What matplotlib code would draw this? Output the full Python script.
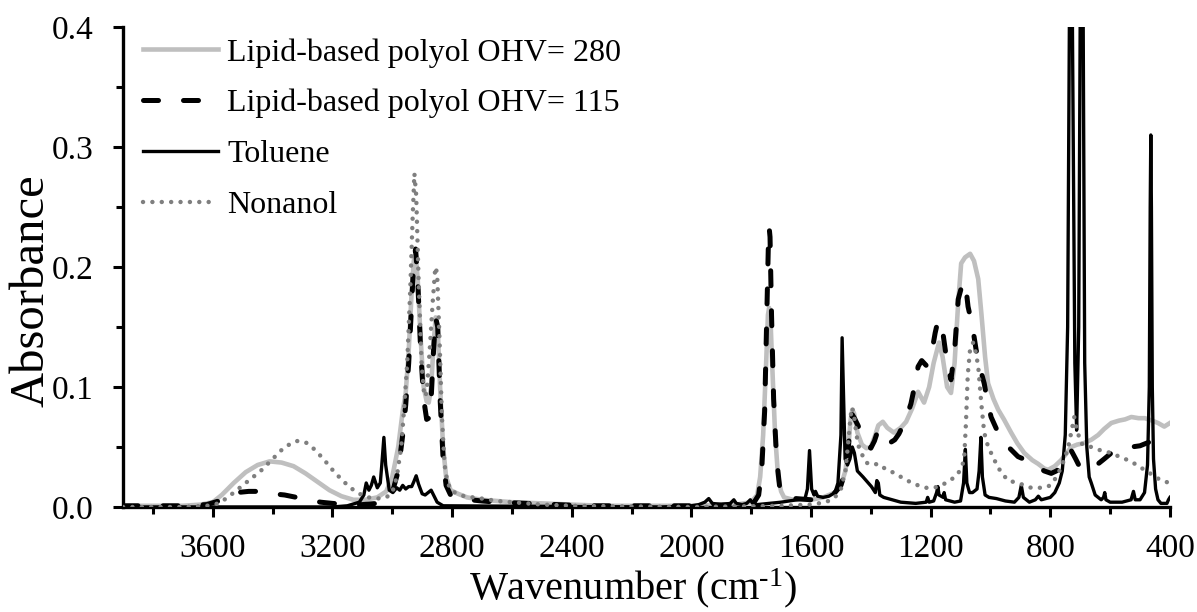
import numpy as np
import matplotlib
matplotlib.use('Agg')
import matplotlib.pyplot as plt
from matplotlib.ticker import MultipleLocator, FormatStrFormatter

plt.rcParams['font.family'] = ['Liberation Serif', 'DejaVu Serif']
plt.rcParams['mathtext.fontset'] = 'custom'
plt.rcParams['mathtext.rm'] = 'Liberation Serif'
plt.rcParams['mathtext.it'] = 'Liberation Serif:italic'

# FTIR spectra, (wavenumber cm-1, absorbance)
polyol280_wn = [3900, 3800, 3700, 3640, 3600, 3570, 3530, 3490, 3450, 3410, 3370, 3330, 3290, 3250,
                3210, 3170, 3130, 3090, 3050, 3020, 3000, 2980, 2965, 2955, 2945, 2935, 2928, 2922,
                2915, 2905, 2895, 2885, 2878, 2870, 2862, 2855, 2848, 2840, 2830, 2820, 2805, 2780,
                2750, 2700, 2650, 2600, 2500, 2400, 2300, 2000, 1850, 1800, 1780, 1770, 1760, 1750,
                1744, 1740, 1736, 1730, 1720, 1710, 1700, 1690, 1660, 1600, 1560, 1520, 1500, 1485,
                1475, 1468, 1462, 1456, 1445, 1430, 1415, 1400, 1385, 1375, 1360, 1345, 1323, 1300,
                1282, 1262, 1242, 1222, 1205, 1190, 1172, 1160, 1145, 1132, 1120, 1108, 1098, 1085,
                1068, 1055, 1041, 1030, 1018, 1008, 990, 974, 955, 931, 910, 887, 860, 841, 820, 807,
                785, 764, 745, 730, 710, 690, 663, 640, 620, 596, 570, 550, 529, 505, 484, 460, 440,
                419, 400]
polyol280_abs = [0.001, 0.001, 0.001, 0.002, 0.004, 0.010, 0.020, 0.029, 0.035, 0.038, 0.037, 0.034,
                 0.028, 0.021, 0.014, 0.009, 0.006, 0.006, 0.008, 0.013, 0.025, 0.050, 0.080, 0.095,
                 0.130, 0.180, 0.205, 0.212, 0.190, 0.140, 0.100, 0.088, 0.087, 0.100, 0.135, 0.158,
                 0.150, 0.100, 0.050, 0.025, 0.014, 0.011, 0.008, 0.006, 0.005, 0.004, 0.003, 0.002,
                 0.001, 0.001, 0.002, 0.004, 0.010, 0.025, 0.060, 0.120, 0.160, 0.166, 0.160, 0.120,
                 0.060, 0.025, 0.013, 0.008, 0.006, 0.006, 0.008, 0.012, 0.018, 0.030, 0.050, 0.072,
                 0.081, 0.078, 0.062, 0.052, 0.049, 0.050, 0.060, 0.068, 0.071, 0.066, 0.062, 0.066,
                 0.071, 0.082, 0.096, 0.087, 0.100, 0.120, 0.137, 0.125, 0.100, 0.095, 0.120, 0.170,
                 0.203, 0.208, 0.211, 0.205, 0.190, 0.160, 0.125, 0.103, 0.090, 0.081, 0.073, 0.062,
                 0.053, 0.045, 0.039, 0.036, 0.032, 0.031, 0.034, 0.039, 0.045, 0.050, 0.052, 0.053,
                 0.056, 0.060, 0.065, 0.070, 0.072, 0.073, 0.075, 0.074, 0.074, 0.072, 0.070, 0.067,
                 0.070]

polyol115_wn = [3900, 3700, 3620, 3580, 3550, 3520, 3480, 3440, 3400, 3360, 3320, 3280, 3240, 3200,
                3150, 3100, 3050, 3020, 3000, 2980, 2965, 2955, 2945, 2935, 2928, 2922, 2915, 2905,
                2895, 2885, 2878, 2870, 2862, 2855, 2848, 2840, 2830, 2820, 2805, 2780, 2740, 2700,
                2650, 2550, 2450, 2350, 2000, 1850, 1790, 1775, 1765, 1755, 1748, 1742, 1740, 1737,
                1732, 1725, 1715, 1705, 1695, 1680, 1650, 1600, 1560, 1520, 1500, 1485, 1475, 1468,
                1462, 1455, 1443, 1430, 1415, 1400, 1388, 1376, 1360, 1339, 1320, 1306, 1285, 1266,
                1250, 1242, 1230, 1215, 1199, 1185, 1175, 1165, 1159, 1145, 1132, 1120, 1108, 1095,
                1088, 1080, 1075, 1060, 1048, 1035, 1021, 1010, 998, 980, 964, 940, 908, 890, 864,
                840, 820, 797, 780, 764, 745, 730, 715, 697, 670, 640, 620, 596, 560, 529, 500, 470,
                439, 420, 400]
polyol115_abs = [0.001, 0.001, 0.002, 0.005, 0.009, 0.012, 0.013, 0.013, 0.011, 0.010, 0.008, 0.006,
                 0.004, 0.003, 0.002, 0.002, 0.003, 0.006, 0.012, 0.030, 0.060, 0.085, 0.120, 0.170,
                 0.205, 0.215, 0.190, 0.130, 0.090, 0.073, 0.074, 0.090, 0.130, 0.158, 0.150, 0.090,
                 0.040, 0.018, 0.010, 0.008, 0.006, 0.005, 0.004, 0.003, 0.002, 0.001, 0.001, 0.002,
                 0.004, 0.010, 0.030, 0.080, 0.160, 0.225, 0.233, 0.225, 0.160, 0.090, 0.040, 0.017,
                 0.009, 0.007, 0.007, 0.006, 0.008, 0.012, 0.018, 0.030, 0.050, 0.070, 0.077, 0.074,
                 0.068, 0.060, 0.052, 0.049, 0.055, 0.064, 0.058, 0.053, 0.056, 0.061, 0.072, 0.086,
                 0.105, 0.117, 0.122, 0.118, 0.125, 0.145, 0.156, 0.150, 0.145, 0.120, 0.106, 0.130,
                 0.173, 0.185, 0.188, 0.178, 0.167, 0.150, 0.131, 0.116, 0.103, 0.088, 0.075, 0.065,
                 0.058, 0.050, 0.042, 0.040, 0.036, 0.033, 0.030, 0.028, 0.030, 0.033, 0.040, 0.047,
                 0.040, 0.031, 0.033, 0.036, 0.040, 0.045, 0.048, 0.050, 0.051, 0.054, 0.058, 0.057,
                 0.056]

toluene_wn = [3900, 3200, 3150, 3110, 3095, 3087, 3078, 3070, 3062, 3050, 3040, 3035, 3028, 3022,
              3010, 2998, 2985, 2975, 2965, 2955, 2945, 2935, 2928, 2920, 2912, 2900, 2890, 2880,
              2870, 2862, 2850, 2830, 2100, 2000, 1975, 1955, 1942, 1930, 1900, 1870, 1858, 1850,
              1830, 1815, 1803, 1795, 1780, 1700, 1620, 1612, 1605, 1598, 1590, 1585, 1578, 1560,
              1540, 1520, 1510, 1500, 1496, 1492, 1486, 1478, 1470, 1462, 1455, 1445, 1426, 1398,
              1385, 1380, 1375, 1370, 1357, 1300, 1250, 1215, 1210, 1205, 1190, 1180, 1176, 1172,
              1158, 1155, 1150, 1120, 1100, 1090, 1084, 1079, 1070, 1060, 1045, 1038, 1032, 1027,
              1018, 1005, 980, 950, 920, 905, 897, 890, 870, 850, 840, 830, 800, 785, 770, 760, 750,
              742, 736, 731, 726, 718, 712, 705, 700, 695, 690, 685, 678, 670, 663, 650, 630, 622,
              618, 614, 600, 560, 530, 522, 516, 500, 485, 475, 469, 466, 464, 462, 459, 455, 448,
              440, 430, 410, 405, 400]
toluene_abs = [0.0, 0.0, 0.001, 0.004, 0.010, 0.020, 0.014, 0.018, 0.025, 0.016, 0.020, 0.035, 0.058,
               0.035, 0.014, 0.012, 0.016, 0.014, 0.018, 0.015, 0.017, 0.017, 0.021, 0.026, 0.019,
               0.011, 0.010, 0.012, 0.014, 0.010, 0.004, 0.001, 0.0, 0.001, 0.002, 0.004, 0.007,
               0.003, 0.002, 0.003, 0.006, 0.003, 0.002, 0.003, 0.006, 0.003, 0.002, 0.004, 0.007,
               0.015, 0.047, 0.015, 0.010, 0.013, 0.009, 0.008, 0.009, 0.012, 0.020, 0.060, 0.141,
               0.100, 0.040, 0.035, 0.040, 0.050, 0.045, 0.030, 0.025, 0.017, 0.012, 0.022, 0.020,
               0.010, 0.008, 0.004, 0.003, 0.004, 0.008, 0.004, 0.005, 0.012, 0.017, 0.010, 0.008,
               0.012, 0.006, 0.004, 0.005, 0.020, 0.048, 0.020, 0.012, 0.012, 0.015, 0.030, 0.058,
               0.025, 0.010, 0.008, 0.007, 0.005, 0.004, 0.008, 0.018, 0.008, 0.004, 0.006, 0.009,
               0.006, 0.008, 0.012, 0.020, 0.030, 0.060, 0.150, 0.400, 0.900, 0.400, 0.120, 0.064,
               0.150, 0.400, 0.900, 0.400, 0.120, 0.050, 0.025, 0.020, 0.010, 0.006, 0.008, 0.012,
               0.006, 0.004, 0.004, 0.006, 0.013, 0.006, 0.006, 0.012, 0.035, 0.100, 0.250, 0.310,
               0.250, 0.100, 0.040, 0.015, 0.006, 0.003, 0.003, 0.006, 0.008]

nonanol_wn = [3900, 3700, 3620, 3580, 3550, 3520, 3480, 3440, 3400, 3360, 3320, 3290, 3260, 3230,
              3200, 3170, 3140, 3110, 3080, 3050, 3020, 3000, 2985, 2970, 2958, 2950, 2940, 2932,
              2926, 2920, 2912, 2902, 2893, 2885, 2875, 2865, 2856, 2850, 2842, 2834, 2825, 2815,
              2800, 2760, 2700, 2650, 2600, 2500, 2400, 2000, 1700, 1600, 1550, 1520, 1500, 1485,
              1475, 1468, 1463, 1457, 1448, 1440, 1430, 1416, 1395, 1376, 1360, 1343, 1320, 1299,
              1270, 1242, 1215, 1189, 1165, 1142, 1125, 1108, 1095, 1088, 1082, 1076, 1068, 1058,
              1050, 1041, 1031, 1021, 1010, 998, 975, 958, 941, 908, 864, 820, 800, 787, 770, 754,
              740, 730, 720, 712, 697, 680, 663, 630, 596, 570, 540, 510, 486, 460, 429, 400]
nonanol_abs = [0.0, 0.0, 0.001, 0.003, 0.008, 0.014, 0.022, 0.030, 0.040, 0.050, 0.055, 0.054,
               0.048, 0.040, 0.031, 0.023, 0.016, 0.011, 0.008, 0.007, 0.008, 0.012, 0.025, 0.050,
               0.090, 0.120, 0.180, 0.240, 0.278, 0.260, 0.190, 0.120, 0.092, 0.095, 0.130, 0.170,
               0.200, 0.195, 0.140, 0.075, 0.035, 0.020, 0.013, 0.009, 0.007, 0.005, 0.004, 0.002,
               0.001, 0.0, 0.001, 0.002, 0.004, 0.008, 0.015, 0.030, 0.055, 0.075, 0.083, 0.078,
               0.060, 0.050, 0.044, 0.037, 0.035, 0.036, 0.033, 0.031, 0.028, 0.025, 0.021, 0.018,
               0.016, 0.016, 0.018, 0.021, 0.024, 0.028, 0.034, 0.040, 0.070, 0.110, 0.132, 0.137,
               0.130, 0.117, 0.087, 0.062, 0.052, 0.045, 0.033, 0.027, 0.022, 0.020, 0.016, 0.016,
               0.018, 0.022, 0.030, 0.039, 0.050, 0.062, 0.075, 0.065, 0.053, 0.051, 0.050, 0.047,
               0.045, 0.042, 0.039, 0.035, 0.031, 0.027, 0.022, 0.020]

fig = plt.figure(figsize=(11.97, 6.12), dpi=100)
ax = fig.add_axes([0.1028, 0.1716, 0.8746, 0.7843])

l280, = ax.plot(polyol280_wn, polyol280_abs, color='#bfbfbf', lw=3.3, zorder=2,
                solid_joinstyle='round', label='Lipid-based polyol OHV= 280')
ltol, = ax.plot(toluene_wn, toluene_abs, color='black', lw=2.4, zorder=3,
                solid_joinstyle='round', label='Toluene')
l115, = ax.plot(polyol115_wn, polyol115_abs, color='black', lw=3.6, zorder=4,
                linestyle=(0, (3.0, 5.0)), dash_capstyle='round',
                label='Lipid-based polyol OHV= 115')
lnon, = ax.plot(nonanol_wn, nonanol_abs, color='#7f7f7f', lw=3.2, zorder=5,
                linestyle=(0, (0.01, 2.1)), dash_capstyle='round', label='Nonanol')

ax.set_xlim(3900, 400)
ax.set_ylim(0, 0.4)

ax.xaxis.set_major_locator(MultipleLocator(400))
ax.xaxis.set_minor_locator(MultipleLocator(200))
ax.yaxis.set_major_locator(MultipleLocator(0.1))
ax.yaxis.set_minor_locator(MultipleLocator(0.05))
ax.yaxis.set_major_formatter(FormatStrFormatter('%.1f'))
ax.set_xticks([3600, 3200, 2800, 2400, 2000, 1600, 1200, 800, 400])

for side in ['top', 'right']:
    ax.spines[side].set_visible(False)
for side in ['left', 'bottom']:
    ax.spines[side].set_linewidth(2.4)
ax.tick_params(which='major', direction='out', length=7, width=2.2, labelsize=24)
ax.tick_params(which='minor', direction='out', length=5, width=2.2)
ax.tick_params(axis='x', which='major', pad=12)
ax.tick_params(axis='y', which='major', pad=14)

ax.set_xlabel(r'Wavenumber (cm$^{\text{-1}}$)', fontsize=29)
ax.set_ylabel('Absorbance', fontsize=35)
ax.xaxis.set_label_coords(0.487, -0.124)
ax.yaxis.set_label_coords(-0.066, 0.45)

ax.legend(handles=[l280, l115, ltol, lnon], loc='upper left', bbox_to_anchor=(0.019, 0.977),
          frameon=False, fontsize=23, handlelength=2.35, handletextpad=0.28,
          labelspacing=0.67, borderpad=0, borderaxespad=0)

fig.savefig('out.png', dpi=100)
